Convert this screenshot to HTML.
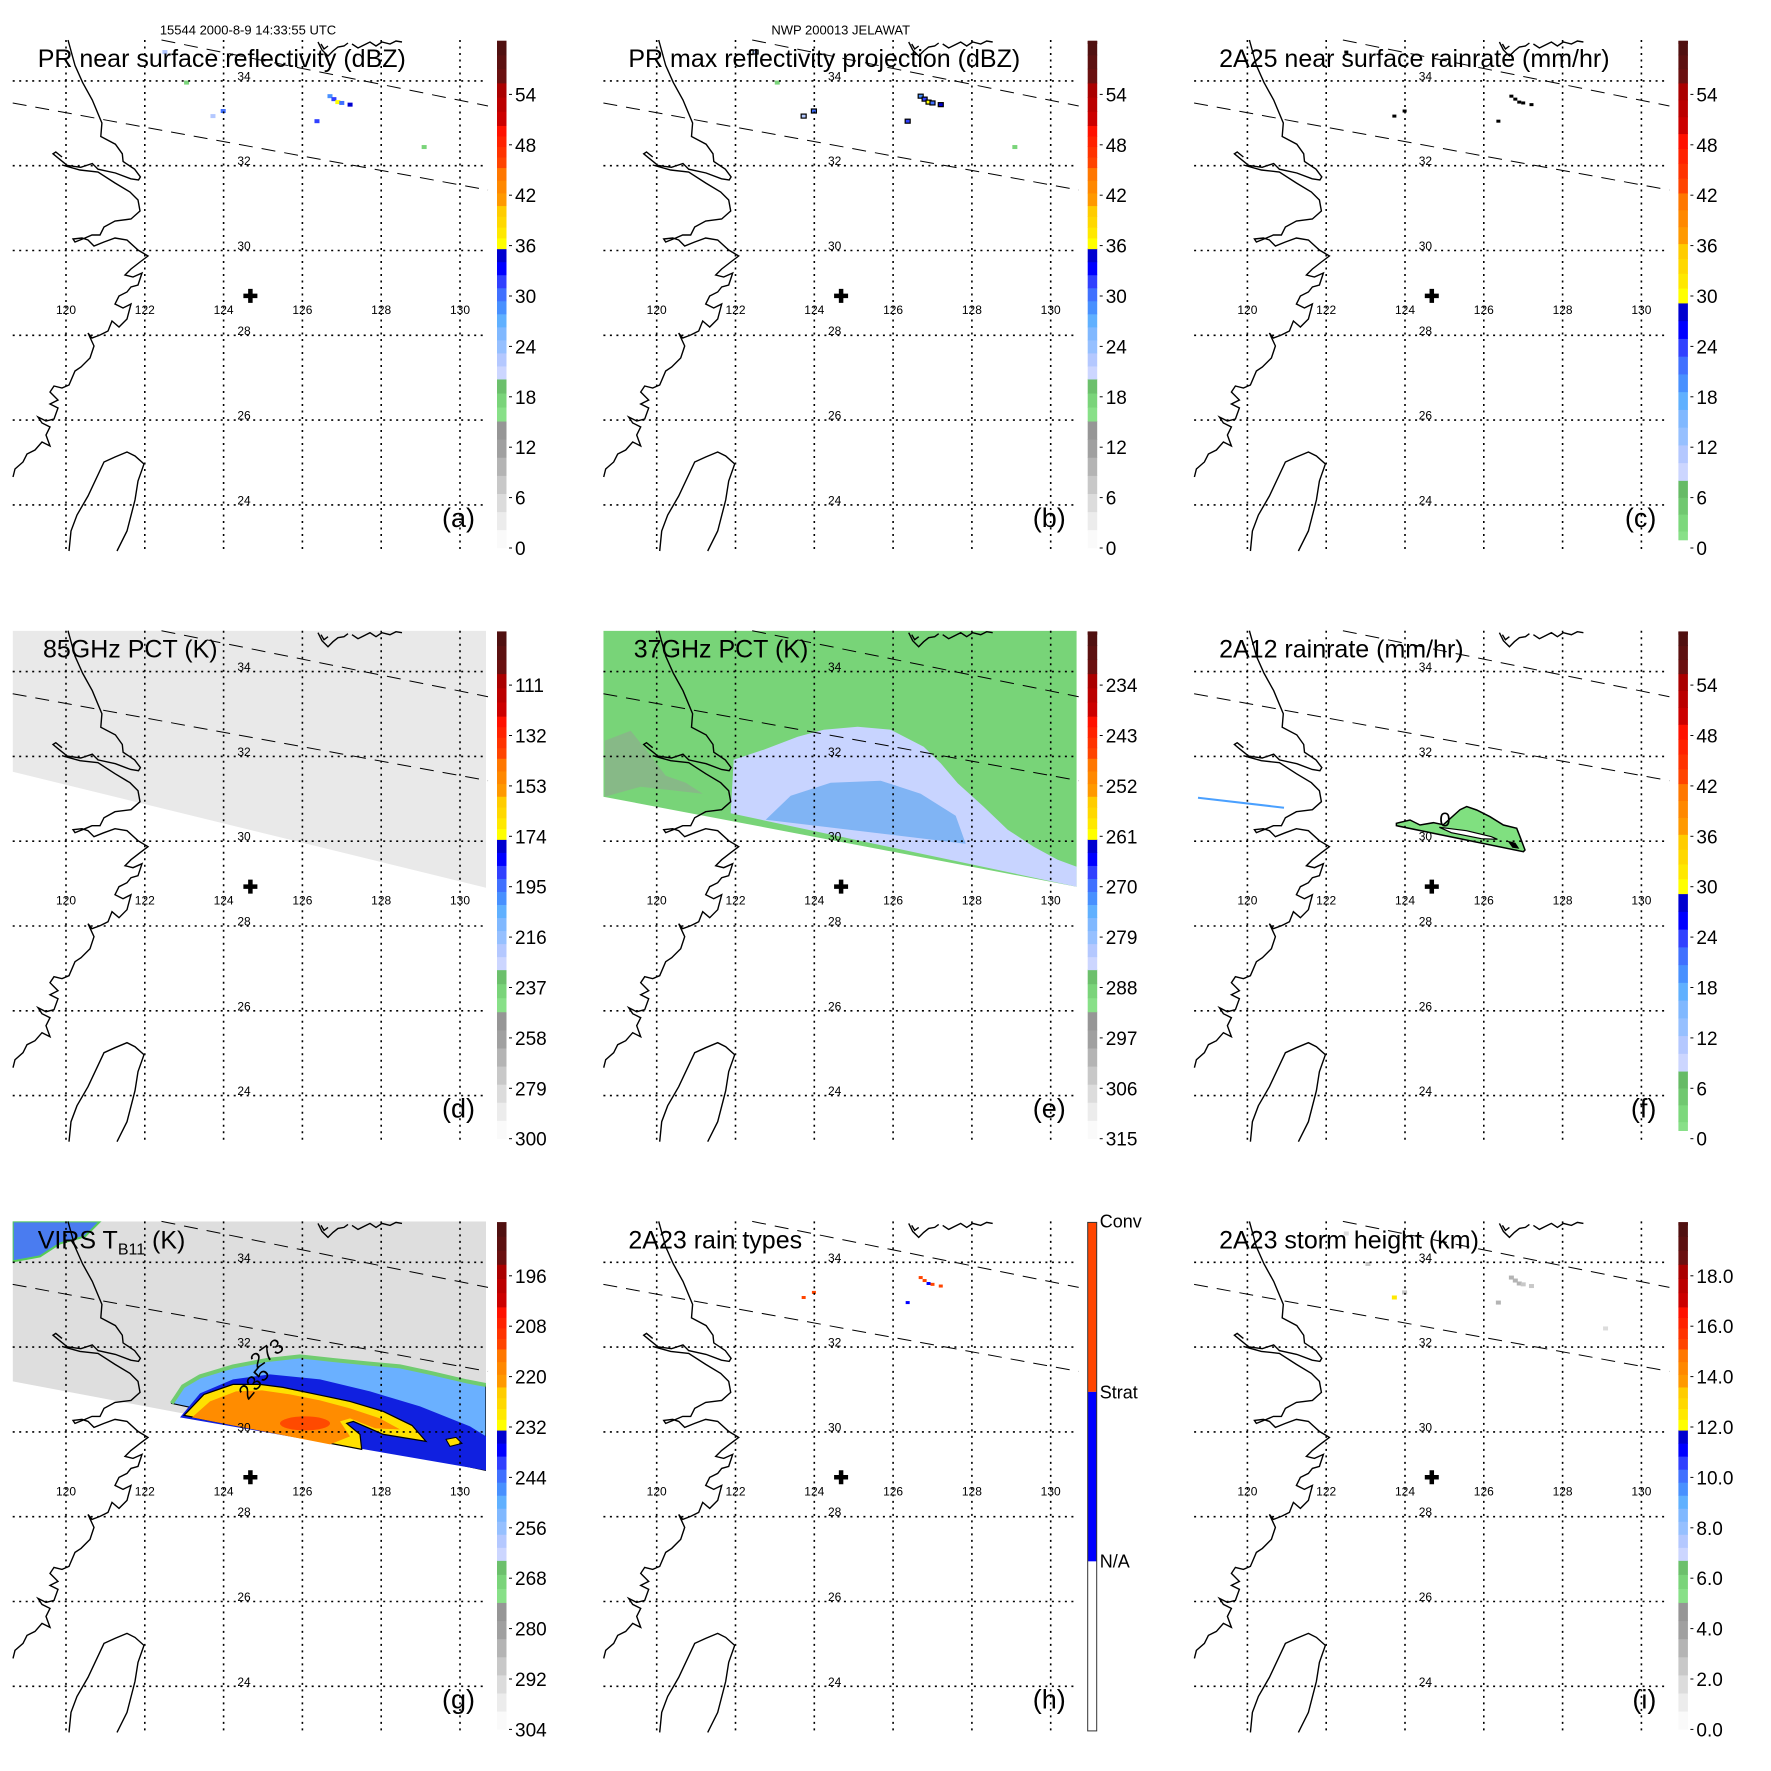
<!DOCTYPE html>
<html><head><meta charset="utf-8">
<style>
html,body{margin:0;padding:0;background:#fff;}
svg{display:block;font-family:"Liberation Sans",Arial,sans-serif;}
</style></head>
<body>
<svg id="fig" xmlns="http://www.w3.org/2000/svg" width="1771" height="1771" viewBox="0 0 1771 1771">
<defs>
<clipPath id="mapclip"><rect x="12.7" y="40" width="473.3" height="511"/></clipPath>
<path id="coast" fill="none" stroke="#000" stroke-width="1.4" d="M68,40 L75,65.4 L82.7,82.7 L92.3,100 L101.9,123 L100.8,136.5 L115.4,144.2 L122.3,153.8 L123.1,161.5 L134.6,169.2 L140.4,176.9 L138.5,180 L130.8,178.8 L115.4,173 L98,169.2 L92.3,163.5 L80.8,167.3 L67.3,165.4 L57.7,157.7 L53,153.8 L55.8,152 L62,157
M62,165 L80,170 L98,172 L115,183 L130,192 L138,200 L140,211 L131,219 L115,221 L104,227 L100,235 L92,235 L85,238 L75,242 L73,239 L82,238 L88,240 L94,246 L104,242 L115,238 L127,240 L138,250 L148,256 L140,262 L131,269 L125,275 L133,277 L142,273 L138,285 L131,287 L127,292 L119,296 L115,304 L123,308 L131,304 L127,319 L119,327 L112,321 L108,331 L100,335 L92,338 L88,333 L94,346 L90,358 L81,367 L75,371 L69,385 L62,388 L54,386 L50,392 L58,400 L50,404 L58,408 L54,419 L46,421 L38,417 L42,423 L50,427 L46,435 L50,446 L42,442 L35,450 L27,454 L23,462 L15,469 L13,477
M69,551 L71,531 L77,515 L88,496 L104,462 L115,457 L127,452 L135,456 L144,464 L138,481 L135,500 L127,531 L117,551
M318,42 L322,50 L328,56 L333,51 L338,47 L344,46 L348,43 M352,44 L358,48 L364,45 L370,42 L376,46 L382,42 L390,44 L396,41 L402,42 M321,44 L324,49 L328,46"/>
</defs>
</svg>
<script>
// ---------- data ----------
const lonTicks = [120,122,124,126,128,130];
const latTicks = [24,26,28,30,32,34];
const labelsA = ['0','6','12','18','24','30','36','42','48','54'];
const labelsD = ['300','279','258','237','216','195','174','153','132','111'];
const labelsE = ['315','306','297','288','279','270','261','252','243','234'];
const labelsG = ['304','292','280','268','256','244','232','220','208','196'];
const labelsI = ['0.0','2.0','4.0','6.0','8.0','10.0','12.0','14.0','16.0','18.0'];
// PR near-surface echoes: lon, lat, dBZ
const echoLon = [126.70,126.80,126.90,127.00,127.21,126.37,123.99,123.73,122.51,123.06,129.09];
const echoLat = [33.64,33.57,33.50,33.48,33.44,33.05,33.29,33.17,34.68,33.96,32.44];
const echoDbz = [28,31,36,30,34,31,30,22,22,17,17];
const stormHt = [3.5,3.0,3.2,2.8,2.6,3.0,2.5,12.5,2.0,2.2,1.5];
const rainType = [2,2,1,2,2,1,2,2,0,0,0];
const stormLon = [124.68]; const stormLat = [28.93];

const cmapA = [[0,.25,['#fafafa','#ececec','#dcdcdc','#c8c8c8','#b4b4b4','#a0a0a0','#969696']],
 [.25,.333,['#88e088','#7ad47a','#6cc06c']],
 [.333,.59,['#ccd6ff','#b4c8ff','#96c0ff','#80b8ff','#60b0ff','#4890ff','#4070ff','#3040ff','#0000ff','#0000d0']],
 [.59,.675,['#ffff00','#ffe800','#ffd800','#ffcc00']],
 [.675,.75,['#ff9900','#ff8800','#ff7700']],
 [.75,.833,['#ff4400','#ff3300','#ff2200','#ff1100']],
 [.833,.917,['#cc0000','#bb0000','#aa0000']],
 [.917,1,['#6a1010','#5c1010','#501010']]];
const cmapC = [[0,.133,['#88e088','#7cd87c','#70c870','#66bb66']],
 [.133,.483,['#ccd6ff','#b4c8ff','#96c0ff','#80b8ff','#60b0ff','#4890ff','#4070ff','#3040ff','#0000ff','#0000d0']],
 [.483,.6,['#ffff00','#ffe800','#ffd800','#ffcc00']],
 [.6,.7,['#ff9900','#ff8800','#ff7700']],
 [.7,.817,['#ff4400','#ff3300','#ff2200','#ff1100']],
 [.817,.917,['#cc0000','#bb0000','#aa0000']],
 [.917,1,['#6a1010','#5c1010','#501010']]];

// ---------- helpers ----------
const NS='http://www.w3.org/2000/svg';
const svg=document.getElementById('fig');
const OFF=590.7;
function xLon(l){return 66+(l-120)*39.4;}
function yLat(l){return 250.5-(l-30)*42.4;}
function yBar(f){return 548-507*f;}
function mk(tag,attrs,parent){const e=document.createElementNS(NS,tag);for(const k in attrs)e.setAttribute(k,attrs[k]);parent.appendChild(e);return e;}
function colorFor(cmap,f){for(const s of cmap){if(f>=s[0]&&f<=s[1]){const n=s[2].length;let i=Math.floor((f-s[0])/(s[1]-s[0])*n);if(i>=n)i=n-1;return s[2][i];}}return '#fff';}

function drawColorbar(g,cmap,labels,barBottom){
  const cb=mk('g',{},g);
  
  
  for(const s of cmap){const n=s[2].length;for(let i=0;i<n;i++){
    const f0=s[0]+(s[1]-s[0])*i/n,f1=s[0]+(s[1]-s[0])*(i+1)/n;
    let y0=yBar(f0); if(f0===0) y0=barBottom;
    mk('rect',{x:497,y:yBar(f1)-0.3,width:9.5,height:y0-yBar(f1)+0.6,fill:s[2][i]},cb);}}
  mk('rect',{x:497,y:41,width:9.5,height:3,fill:cmap[cmap.length-1][2][2]},cb);
  labels.forEach((lb,i)=>{
    const yy=548-i*50.4;
    mk('line',{x1:509,x2:512,y1:yy,y2:yy,stroke:'#000','stroke-width':1},cb);
    const t=mk('text',{x:515,y:yy+7,'font-size':19},cb);t.textContent=lb;
    
    
  });
}

function drawBase(g){
  const grid=mk('g',{stroke:'#000','stroke-width':1.6,'stroke-dasharray':'2 4.5'},g);
  
  
  lonTicks.forEach(l=>mk('line',{x1:xLon(l),x2:xLon(l),y1:40,y2:551},grid));
  latTicks.forEach(l=>mk('line',{x1:12.7,x2:486,y1:yLat(l),y2:yLat(l)},grid));
  const cl=mk('use',{href:'#coast'},g);
  
  
  const sw=mk('g',{stroke:'#000','stroke-width':1,'stroke-dasharray':'14 9',fill:'none'},g);
  
  
  mk('line',{x1:12.7,y1:103,x2:488,y2:190},sw);
  mk('line',{x1:161.5,y1:40,x2:488,y2:106},sw);
  lonTicks.forEach(l=>{const t=mk('text',{x:xLon(l),y:314,'font-size':12,'text-anchor':'middle'},g);t.textContent=l;
    
    });
  latTicks.forEach(l=>{const t=mk('text',{x:244,y:yLat(l)-0.5,'font-size':12,'text-anchor':'middle'},g);t.textContent=l;
    
    });
  const cx=xLon(stormLon[0]),cy=yLat(stormLat[0]);
  const cr=mk('path',{d:`M${cx-7},${cy} H${cx+7} M${cx},${cy-7} V${cy+7}`,stroke:'#000','stroke-width':4.5},g);
  
  
}

function drawText(g,txt,x,y,size,name,anchor){const t=mk('text',{x:x,y:y,'font-size':size,'text-anchor':anchor||'start'},g);t.textContent=txt;
  
  return t;}

function panel(col,row,name){const g=mk('g',{transform:`translate(${col*OFF},${row*OFF})`},svg);
  
  
  const img=mk('g',{'clip-path':'url(#mapclip)'},g);return [g,img];}

const TS=25;
// ---------- panel a ----------
let [ga,ia]=panel(0,0,'panel-a-pr-near-surface-reflectivity');
drawBase(ga);
echoLon.forEach((l,i)=>{const r=mk('rect',{x:xLon(l)-2.5,y:yLat(echoLat[i])-2,width:5,height:4,fill:colorFor(cmapA,echoDbz[i]/60)},ia);
  
  });
drawColorbar(ga,cmapA,labelsA,548);
drawText(ga,'15544 2000-8-9 14:33:55 UTC',248,34.6,13,'header-orbit-time','middle');
drawText(ga,'PR near surface reflectivity (dBZ)',37.7,67,TS,'panel-title');
drawText(ga,'(a)',475,527,27,'panel-letter','end');

// ---------- panel b ----------
let [gb,ib]=panel(1,0,'panel-b-pr-max-reflectivity');
drawBase(gb);
echoLon.forEach((l,i)=>{const r=mk('rect',{x:xLon(l)-2.5,y:yLat(echoLat[i])-2,width:5,height:4,fill:colorFor(cmapA,echoDbz[i]/60),stroke:echoDbz[i]>20?'#000':'none','stroke-width':1.2},ib);
  
  });
drawColorbar(gb,cmapA,labelsA,548);
drawText(gb,'NWP 200013 JELAWAT',250,34.6,13,'header-storm-name','middle');
drawText(gb,'PR max reflectivity projection (dBZ)',37.7,67,TS,'panel-title');
drawText(gb,'(b)',475,527,27,'panel-letter','end');

// ---------- panel c ----------
let [gc,ic]=panel(2,0,'panel-c-2a25-rainrate');
drawBase(gc);
echoLon.forEach((l,i)=>{if(echoDbz[i]>20){const r=mk('rect',{x:xLon(l)-2,y:yLat(echoLat[i])-1.5,width:4,height:3,fill:'#000'},ic);
  
  }});
drawColorbar(gc,cmapC,labelsA,540);
drawText(gc,'2A25 near surface rainrate (mm/hr)',37.7,67,TS,'panel-title');
drawText(gc,'(c)',475,527,27,'panel-letter','end');

// ---------- panel d ----------
let [gd,id]=panel(0,1,'panel-d-85ghz-pct');
{const p=mk('polygon',{points:'12.7,40 486,40 486,297 12.7,181',fill:'#e9e9e9'},id);
 
 }
drawBase(gd);
drawColorbar(gd,cmapA,labelsD,548);
drawText(gd,'85GHz PCT (K)',43,67,TS,'panel-title');
drawText(gd,'(d)',475,527,27,'panel-letter','end');

// ---------- panel e ----------
let [ge,ie]=panel(1,1,'panel-e-37ghz-pct');
{const p=mk('polygon',{points:'12.7,40 486,40 486,296 12.7,206',fill:'#78d478'},ie);
 
 
 const gr=mk('polygon',{points:'14,150 40,140 60,165 75,185 95,192 112,203 50,196 14,206',fill:'#9a9a9a',opacity:0.45},ie);
 
 
 const lb=mk('polygon',{points:'140,222.6 143,169 173,159 207,146 233,139 267,136 300,139 333,156 350,172.6 367,192.6 393,216 417,239 443,256 467,269 486,276 486,296',fill:'#c8d4ff'},ie);
 
 
 const bl=mk('polygon',{points:'175,229 200,205 240,192 290,190 330,203 365,225 375,253',fill:'#80b4f4'},ie);
 
 }
drawBase(ge);
drawColorbar(ge,cmapA,labelsE,548);
drawText(ge,'37GHz PCT (K)',43,67,TS,'panel-title');
drawText(ge,'(e)',475,527,27,'panel-letter','end');

// ---------- panel f ----------
let [gf,iff]=panel(2,1,'panel-f-2a12-rainrate');
{const ln=mk('line',{x1:16.6,y1:207,x2:102.6,y2:217,stroke:'#4aa0ff','stroke-width':2},iff);
 
 
 const p=mk('polygon',{points:'215,232.6 228.6,229.3 238.6,234.3 252,232 262,234 278.6,219 285.3,215.9 295.3,219.3 308.6,226 322,234.3 335.3,237.6 338.6,246 343.6,259.3 342,261 215,235',fill:'#80e080',stroke:'#000','stroke-width':1.5},iff);
 
 
 const h=mk('polygon',{points:'258,236.6 285,240 310,246 316,248.6 300,248 270,242',fill:'#fff',stroke:'#000','stroke-width':1.2},iff);
 
 
 const b=mk('polygon',{points:'326,250 334,252 338,258 331,257',fill:'#000'},iff);
 
 
 drawText(iff,'0',258,236,20,'contour-label');}
drawBase(gf);
drawColorbar(gf,cmapC,labelsA,540);
drawText(gf,'2A12 rainrate (mm/hr)',37.7,67,TS,'panel-title');
drawText(gf,'(f)',475,527,27,'panel-letter','end');

// ---------- panel g ----------
let [gg,ig]=panel(0,2,'panel-g-virs-tb11');
{const p=mk('polygon',{points:'12.7,40 486,40 486,289 12.7,200',fill:'#dedede'},ig);
 
 
 const tl=mk('polygon',{points:'12.7,40 100,40 85,55 60,62 40,75 12.7,80',fill:'#4a7cf0',stroke:'#5c5','stroke-width':2},ig);
 
 
 const o=mk('polygon',{points:'171.7,222 183,205 200,195 233,185 267,178.6 300,175 333,178.6 367,182 400,185 433,192 467,200 486,203.6 486,289',fill:'#6ab0ff',stroke:'#000','stroke-width':1.2},ig);
 
 
 const ed=mk('polyline',{points:'171.7,222 183,205 200,195 233,185 267,178.6 300,175 333,178.6 367,182 400,185 433,192 467,200 486,203.6',fill:'none',stroke:'#70cc70','stroke-width':4},ig);
 
 
 const bd=mk('polygon',{points:'180,236 200,212 233,198 270,193 320,198 370,210 420,225 470,245 486,255 486,289',fill:'#1020e0'},ig);
 
 
 const yc=mk('polygon',{points:'184,234 204,213 233,203 260,203 283,206 316.7,213 350,220 383.3,230 412,244 426,260 383.3,253 353.3,240 346.7,242 360,253 361.7,268',fill:'#ffe000',stroke:'#000','stroke-width':1.2},ig);
 
 
 const oc=mk('polygon',{points:'192,236 210,220 236,210 262,209 290,213 320,219 350,227 380,237 400,248 375,247 350,237 340,240 350,255 330,263',fill:'#ff8c00'},ig);
 
 
 const rc=mk('ellipse',{cx:305,cy:242,rx:25,ry:7,fill:'#ff4a00'},ig);
 
 
 const y2=mk('polygon',{points:'446,258 456,256 462,262 450,265',fill:'#ffe000',stroke:'#000','stroke-width':1},ig);
 
 
 const t1=drawText(ig,'273',252,183,21,'contour-label');t1.setAttribute('transform','rotate(-35 262 178)');
 const t2=drawText(ig,'235',240,214,21,'contour-label');t2.setAttribute('transform','rotate(-50 250 208)');}
drawBase(gg);
drawColorbar(gg,cmapA,labelsG,548);
{const t=mk('text',{x:37.7,y:67,'font-size':TS},gg);
 
 
 t.innerHTML='VIRS T<tspan font-size="16" dy="6">B11</tspan><tspan dy="-6"> (K)</tspan>';}
drawText(gg,'(g)',475,527,27,'panel-letter','end');

// ---------- panel h ----------
let [gh,ih]=panel(1,2,'panel-h-2a23-rain-types');
const typeColors=['#ffffff','#0000ff','#ff4500'];
echoLon.forEach((l,i)=>{if(rainType[i]>0){const r=mk('rect',{x:xLon(l)-2,y:yLat(echoLat[i])-1.5,width:4,height:3,fill:typeColors[rainType[i]]},ih);
  
  }});
drawBase(gh);
{const cb=mk('g',{},gh);
 
 
 mk('rect',{x:497,y:41,width:9,height:169.5,fill:'#ff4500'},cb);
 mk('rect',{x:497,y:210.5,width:9,height:169.5,fill:'#0000ff'},cb);
 mk('rect',{x:497,y:380,width:9,height:169.5,fill:'#fff'},cb);
 mk('rect',{x:497,y:41,width:9,height:508.5,fill:'none',stroke:'#333','stroke-width':1},cb);
 drawText(cb,'Conv',509,46,18,'legend-conv');
 drawText(cb,'Strat',509,217,18,'legend-strat');
 drawText(cb,'N/A',509,386,18,'legend-na');}
drawText(gh,'2A23 rain types',37.7,67,TS,'panel-title');
drawText(gh,'(h)',475,527,27,'panel-letter','end');

// ---------- panel i ----------
let [gi,ii]=panel(2,2,'panel-i-2a23-storm-height');
echoLon.forEach((l,i)=>{const r=mk('rect',{x:xLon(l)-2.5,y:yLat(echoLat[i])-2,width:5,height:4,fill:colorFor(cmapA,stormHt[i]/20)},ii);
  
  });
drawBase(gi);
drawColorbar(gi,cmapA,labelsI,548);
drawText(gi,'2A23 storm height (km)',37.7,67,TS,'panel-title');
drawText(gi,'(i)',475,527,27,'panel-letter','end');
</script>
</body></html>
